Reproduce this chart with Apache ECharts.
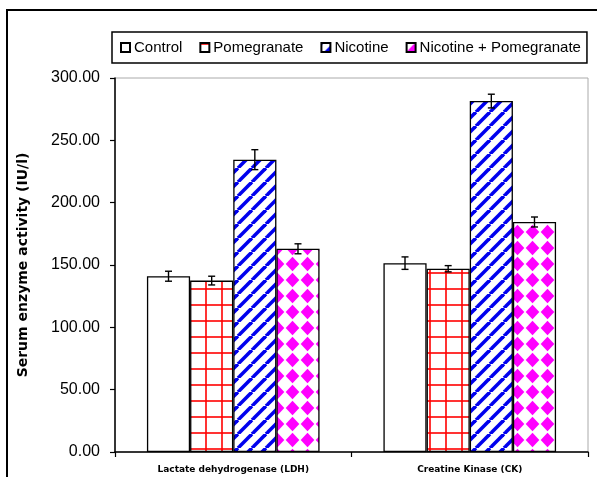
<!DOCTYPE html>
<html>
<head>
<meta charset="utf-8">
<script src="https://cdn.jsdelivr.net/npm/echarts@6/dist/echarts.min.js"></script>
<style>html,body{margin:0;padding:0;background:#fff;}#c{width:597px;height:477px;}</style>
</head>
<body>
<div id="c"></div>
<script>
// ---- data ----
const categories = ['Lactate dehydrogenase (LDH)', 'Creatine Kinase (CK)'];
const seriesNames = ['Control', 'Pomegranate', 'Nicotine', 'Nicotine + Pomegranate'];
const controlVals = [141, 151.5];
const controlErr = [4, 5];
const pomegranateVals = [137.5, 147];
const pomegranateErr = [3.5, 2.5];
const nicotineVals = [234.5, 281.5];
const nicotineErr = [8, 5.5];
const nicPomVals = [163, 184.5];
const nicPomErr = [4, 4];
const yTicks = [0, 50, 100, 150, 200, 250, 300];

// ---- patterns ----
function tile(w, h, draw) {
  const c = document.createElement('canvas');
  c.width = w; c.height = h;
  const g = c.getContext('2d');
  g.fillStyle = '#fff'; g.fillRect(0, 0, w, h);
  draw(g, w, h);
  return c;
}
const gridTile = tile(16, 16, (g) => {
  g.strokeStyle = '#ff0000'; g.lineWidth = 1.6;
  g.beginPath(); g.moveTo(14, 0); g.lineTo(14, 16); g.stroke();
  g.beginPath(); g.moveTo(0, 1); g.lineTo(16, 1); g.stroke();
});
const stripeTile = tile(14, 14, (g, w, h) => {
  g.strokeStyle = '#0000ee'; g.lineWidth = 3.6;
  [-14, 0, 14].forEach(k => { g.beginPath(); g.moveTo(k, h); g.lineTo(k + w, 0); g.stroke(); });
});
const diamondTile = tile(15, 16, (g) => {
  g.fillStyle = '#ff00ff';
  const d = (cx, cy) => { g.beginPath(); g.moveTo(cx - 6.8, cy); g.lineTo(cx, cy - 7.2); g.lineTo(cx + 6.8, cy); g.lineTo(cx, cy + 7.2); g.closePath(); g.fill(); };
  d(7.5, 8);
});
const fills = ['#ffffff',
  { image: gridTile, repeat: 'repeat' },
  { image: stripeTile, repeat: 'repeat' },
  { image: diamondTile, repeat: 'repeat' }];

const valueSets = [controlVals, pomegranateVals, nicotineVals, nicPomVals];
const errSets = [controlErr, pomegranateErr, nicotineErr, nicPomErr];
const CAT_GAP = 0.27;

const barSeries = seriesNames.map((n, i) => ({
  name: n, type: 'bar', data: valueSets[i],
  barGap: '0%', barCategoryGap: (CAT_GAP * 100) + '%',
  itemStyle: { color: fills[i], borderColor: '#000', borderWidth: 1.3 },
  emphasis: { disabled: true }
}));

const errData = [];
errSets.forEach((arr, s) => arr.forEach((e, c) => errData.push([c, valueSets[s][c], e, s])));

const errSeries = {
  type: 'custom', name: 'err', data: errData, z: 10, silent: true,
  renderItem: function (params, api) {
    const c = api.value(0), v = api.value(1), e = api.value(2), s = api.value(3);
    const p = api.coord([c, v]);
    const band = api.size([1, 0])[0];
    const bw = band * (1 - CAT_GAP) / 4;
    const x = p[0] + (s - 1.5) * bw;
    const yt = api.coord([c, v + e])[1];
    const yb = api.coord([c, v - e])[1];
    const st = { stroke: '#000', lineWidth: 1.4 };
    return { type: 'group', children: [
      { type: 'line', shape: { x1: x, y1: yt, x2: x, y2: yb }, style: st },
      { type: 'line', shape: { x1: x - 3.5, y1: yt, x2: x + 3.5, y2: yt }, style: st },
      { type: 'line', shape: { x1: x - 3.5, y1: yb, x2: x + 3.5, y2: yb }, style: st }
    ]};
  }
};

const chart = echarts.init(document.getElementById('c'), null, { renderer: 'canvas' });
chart.setOption({
  animation: false,
  backgroundColor: '#fff',
  graphic: [{
    type: 'rect', shape: { x: 7, y: 10, width: 600, height: 480 }, z: -1,
    style: { fill: 'none', stroke: '#000', lineWidth: 2 }, silent: true
  }],
  legend: {
    data: seriesNames, left: 112, top: 32,
    padding: [8, 6, 8, 8], itemGap: 17, itemWidth: 9, itemHeight: 9,
    backgroundColor: '#fff', borderColor: '#000', borderWidth: 1.5,
    icon: 'rect',
    textStyle: { fontFamily: 'Liberation Sans, Arial', fontSize: 15, color: '#000', padding: [0, 0, 0, -1] },
    selectedMode: false
  },
  grid: { left: 115, right: 9, top: 78, bottom: 25, show: true, borderColor: '#aaa', borderWidth: 1, backgroundColor: '#fff' },
  xAxis: {
    type: 'category', data: categories,
    axisLine: { lineStyle: { color: '#000', width: 1.5 } },
    axisTick: { show: true, length: 5, lineStyle: { color: '#000', width: 1.2 } },
    axisLabel: { fontFamily: 'DejaVu Sans', fontWeight: 'bold', fontSize: 9, color: '#000', margin: 13 }
  },
  yAxis: {
    type: 'value', min: 0, max: 300, interval: 50,
    name: 'Serum enzyme activity (IU/l)', nameLocation: 'middle', nameRotate: 90, nameGap: 85,
    nameTextStyle: { fontFamily: 'DejaVu Sans', fontWeight: 'bold', fontSize: 14, color: '#000' },
    axisLine: { show: true, lineStyle: { color: '#000', width: 1.5 } },
    axisTick: { show: true, length: 5, lineStyle: { color: '#000', width: 1.2 } },
    splitLine: { show: false },
    axisLabel: {
      fontFamily: 'Liberation Sans, Arial', fontSize: 16, color: '#000', margin: 15,
      formatter: v => (yTicks.indexOf(v) >= 0 ? v.toFixed(2) : '')
    }
  },
  series: barSeries.concat([errSeries])
});
</script>
</body>
</html>
